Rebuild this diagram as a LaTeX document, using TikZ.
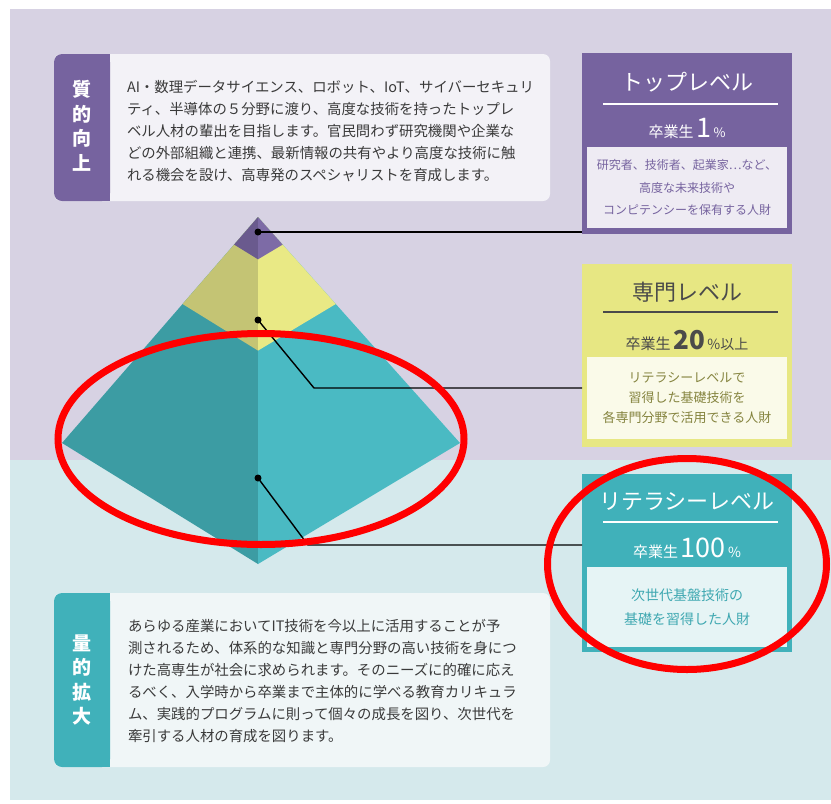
\documentclass[tikz,border=0pt]{standalone}
\usepackage{fontspec}
\setmainfont{Noto Sans CJK JP}
\usetikzlibrary{calc,positioning}

\definecolor{lavbg}{HTML}{D7D2E3}
\definecolor{cyanbg}{HTML}{D5E9EC}
\definecolor{topq}{HTML}{76639F}
\definecolor{topin}{HTML}{EEEBF3}
\definecolor{midq}{HTML}{E7E783}
\definecolor{midin}{HTML}{FAFAE9}
\definecolor{midtxt}{HTML}{4A4A4A}
\definecolor{midsub}{HTML}{85843F}
\definecolor{litq}{HTML}{40B1BA}
\definecolor{litin}{HTML}{E6F4F5}
\definecolor{littxt}{HTML}{3FA8B1}
\definecolor{pyrtopL}{HTML}{6A5A8E}
\definecolor{pyrtopR}{HTML}{7D6BA6}
\definecolor{pyrmidL}{HTML}{C4C474}
\definecolor{pyrmidR}{HTML}{E9E985}
\definecolor{pyrlitL}{HTML}{3C9CA3}
\definecolor{pyrlitR}{HTML}{4ABAC3}
\definecolor{bodytxt}{HTML}{3A3A3A}
\definecolor{qualbg}{HTML}{F3F2F7}
\definecolor{quanbg}{HTML}{F0F6F7}

\begin{document}
\begin{tikzpicture}
[x=1pt,y=-1pt,
 every node/.style={inner sep=0pt,outer sep=0pt},
 panel/.style={rectangle,minimum width=210pt},
 inbox/.style={rectangle,minimum width=200pt,align=center},
 title/.style={font=\fontsize{22}{22}\selectfont},
 grad/.style={font=\fontsize{15}{15}\selectfont},
 body/.style={anchor=west,align=left,text=bodytxt,font=\fontsize{14.4}{22}\selectfont},
 textbox/.style={rectangle,rounded corners=7pt,minimum width=496pt},
 tab/.style={rectangle,rounded corners=8pt,minimum width=56pt,text=white,align=center},
 head/.style={text=white,align=center,font=\fontsize{19}{24.5}\selectfont\bfseries},
 dot/.style={circle,fill=black,minimum size=7pt},
 leader/.style={draw=black,line width=1.4pt},
 redmark/.style={draw=red,line width=7pt}]
\useasboundingbox (0,0) rectangle (831,804);
\fill[white]  (0,0)    rectangle (831,804);
\fill[lavbg]  (10,9)   rectangle (831,460);
\fill[cyanbg] (10,460) rectangle (831,800);

% text boxes on the left
\node[textbox,fill=qualbg,minimum height=147pt] (qualbox) at (302,127.5) {};
\node[tab,fill=topq,minimum height=147pt]      (qualtab) at (82,127.5)  {};
\fill[topq] (95,54) rectangle (110,201);
\node[head] (qualhead) at (82,126) {質\\的\\向\\上};
\node[body] (qualtext) at (127,131.5)
  {AI・数理データサイエンス、ロボット、IoT、サイバーセキュリ\\
   ティ、半導体の５分野に渡り、高度な技術を持ったトップレ\\
   ベル人材の輩出を目指します。官民問わず研究機関や企業な\\
   どの外部組織と連携、最新情報の共有やより高度な技術に触\\
   れる機会を設け、高専発のスペシャリストを育成します。};

\node[textbox,fill=quanbg,minimum height=174pt] (quanbox) at (302,680) {};
\node[tab,fill=litq,minimum height=174pt]       (quantab) at (82,680)  {};
\fill[litq] (95,593) rectangle (110,767);
\node[head] (quanhead) at (82,680) {量\\的\\拡\\大};
\node[body] (quantext) at (128,681)
  {あらゆる産業においてIT技術を今以上に活用することが予\\
   測されるため、体系的な知識と専門分野の高い技術を身につ\\
   けた高専生が社会に求められます。そのニーズに的確に応え\\
   るべく、入学時から卒業まで主体的に学べる教育カリキュラ\\
   ム、実践的プログラムに則って個々の成長を図り、次世代を\\
   牽引する人材の育成を図ります。};

% pyramid
\coordinate (apex) at (258,217);
\coordinate (pl)   at (62,443);
\coordinate (pr)   at (460,443);
\coordinate (pb)   at (258,564);
\fill[pyrlitL] (apex) -- (pl) -- (pb) -- cycle;
\fill[pyrlitR] (apex) -- (pb) -- (pr) -- cycle;
\fill[pyrmidL] (apex) -- ($(apex)!0.385!(pl)$) -- ($(apex)!0.385!(pb)$) -- cycle;
\fill[pyrmidR] (apex) -- ($(apex)!0.385!(pb)$) -- ($(apex)!0.385!(pr)$) -- cycle;
\fill[pyrtopL] (apex) -- ($(apex)!0.122!(pl)$) -- ($(apex)!0.122!(pb)$) -- cycle;
\fill[pyrtopR] (apex) -- ($(apex)!0.122!(pb)$) -- ($(apex)!0.122!(pr)$) -- cycle;

\node[dot] (topdot) at (258,232) {};
\node[dot] (middot) at (258,320) {};
\node[dot] (litdot) at (258,478) {};

% level panels on the right
\node[panel,fill=topq,minimum height=181pt] (topbox) at (687,143.5) {};
\node[title,text=white] (toptitle) at (687,82) {トップレベル};
\draw[white,line width=1.5pt] (603,104) -- (778,104);
\node[grad,text=white] (topgrad) at (687,128)
  {卒業生\,{\fontsize{27}{27}\selectfont 1}\,{\fontsize{13}{13}\selectfont\%}};
\node[inbox,fill=topin,minimum height=81pt,text=topq,font=\fontsize{12}{22.5}\selectfont] (topinner) at (687,187.5)
  {研究者、技術者、起業家…など、\\高度な未来技術や\\コンピテンシーを保有する人財};

\node[panel,fill=midq,minimum height=183pt] (midbox) at (687,355.5) {};
\node[title,text=midtxt] (midtitle) at (687,292) {専門レベル};
\draw[midtxt,line width=1.5pt] (603,312) -- (778,312);
\node[grad,text=midtxt] (midgrad) at (687,340)
  {卒業生\,{\fontsize{26}{26}\selectfont\bfseries 20}\,{\fontsize{14}{14}\selectfont\%以上}};
\node[inbox,fill=midin,minimum height=82pt,text=midsub,font=\fontsize{13}{20}\selectfont] (midinner) at (687,398)
  {リテラシーレベルで\\習得した基礎技術を\\各専門分野で活用できる人財};

\node[panel,fill=litq,minimum height=178pt] (litbox) at (687,563) {};
\node[title,text=white] (littitle) at (687,502) {リテラシーレベル};
\draw[white,line width=1.5pt] (603,522) -- (778,522);
\node[grad,text=white] (litgrad) at (687,548)
  {卒業生\,{\fontsize{27}{27}\selectfont 100}\,{\fontsize{14}{14}\selectfont\%}};
\node[inbox,fill=litin,minimum height=80pt,text=littxt,font=\fontsize{14}{24}\selectfont] (litinner) at (687,607)
  {次世代基盤技術の\\基礎を習得した人財};

% leaders from the pyramid to the panels
\coordinate (midbend) at (314,388);
\coordinate (litbend) at (308,545);
\draw[leader] (topdot.center) -- (topbox.west |- topdot);
\draw[leader] (middot.center) -- (midbend) -- (midbox.west |- midbend);
\draw[leader] (litdot.center) -- (litbend) -- (litbox.west |- litbend);

% red marks
\draw[redmark] (261,439) ellipse [x radius=203,y radius=105.5];
\draw[redmark] (687,564) ellipse [x radius=139.5,y radius=105.5];
\end{tikzpicture}
\end{document}
